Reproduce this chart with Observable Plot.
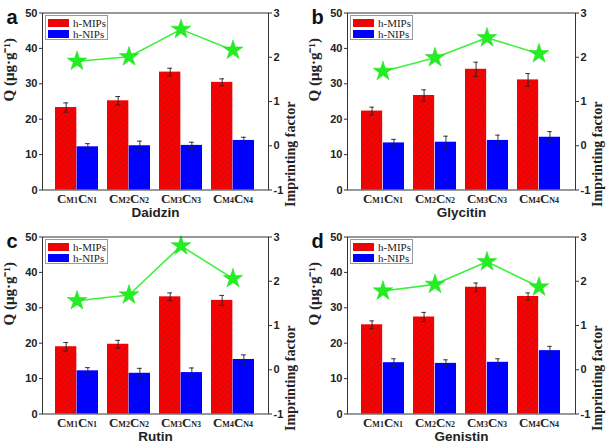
<!DOCTYPE html>
<html>
<head>
<meta charset="utf-8">
<script src="https://cdn.jsdelivr.net/npm/d3@7"></script>
<script src="https://cdn.jsdelivr.net/npm/@observablehq/plot@0.6"></script>
<style>
  body { margin: 0; background: #fff; }
  #grid { width: 609px; height: 448px; display: grid; grid-template-columns: 305px 304px; grid-template-rows: 224px 224px; }
  .panel { position: relative; width: 100%; height: 224px; }
  .panel svg { display: block; }
  .legend { position: absolute; left: 45px; top: 15px; width: 61px; height: 23px; border: 1px solid #999; background: #fff; font-family: "Liberation Serif", serif; font-size: 11px; color: #222; }
  .legend .row { position: absolute; left: 2px; height: 9px; display: flex; align-items: center; }
  .legend .sw { width: 21px; height: 8px; margin-right: 4px; }
  .legend .red { background: repeating-linear-gradient(135deg, #ff0000 0 2.2px, #c81010 2.2px 3.2px); }
  .legend .blue { background: #0000ff; }
</style>
</head>
<body>
<svg width="0" height="0" style="position:absolute">
  <defs>
    <pattern id="hatchRed" width="4" height="4" patternUnits="userSpaceOnUse" patternTransform="rotate(45)">
      <rect width="4" height="4" fill="#ff0000"></rect>
      <line x1="0.5" y1="0" x2="0.5" y2="4" stroke="#c41010" stroke-width="1.1"></line>
    </pattern>
  </defs>
</svg>
<div id="grid"></div>
<script>
const categories = ["CM1CN1", "CM2CN2", "CM3CN3", "CM4CN4"];
const compounds = ["Daidzin", "Glycitin", "Rutin", "Genistin"];
const panelLetters = ["a", "b", "c", "d"];
const seriesNames = ["h-MIPs", "h-NIPs"];
const mipQ = [[23.3, 25.2, 33.3, 30.4], [22.3, 26.7, 34.1, 31.1], [19.0, 19.7, 33.1, 32.1], [25.2, 27.4, 35.8, 33.2]];
const mipErr = [[1.3, 1.2, 1.1, 1.0], [1.1, 1.6, 2.0, 1.8], [1.2, 1.1, 1.1, 1.4], [1.1, 1.3, 1.2, 1.0]];
const nipQ = [[12.2, 12.5, 12.6, 14.0], [13.3, 13.5, 14.0, 14.9], [12.2, 11.5, 11.7, 15.4], [14.5, 14.3, 14.6, 17.9]];
const nipErr = [[0.9, 1.3, 0.9, 0.9], [1.0, 1.7, 1.5, 1.6], [0.9, 1.4, 1.3, 1.3], [1.1, 1.0, 1.0, 1.2]];
const imprintingFactor = [[1.91, 2.01, 2.63, 2.16], [1.68, 1.99, 2.44, 2.08], [1.56, 1.69, 2.80, 2.06], [1.78, 1.93, 2.44, 1.87]];
const qTicks = [0, 10, 20, 30, 40, 50];
const ifTicks = [-1, 0, 1, 2, 3];

const qMax = 50, ifMin = -1, ifMax = 3;
const toQ = v => (v - ifMin) / (ifMax - ifMin) * qMax;
const fromQ = q => q / qMax * (ifMax - ifMin) + ifMin;

function panel(i, width) {
  const rows = categories.map((c, j) => ({
    cat: c, mip: mipQ[i][j], mipE: mipErr[i][j], nip: nipQ[i][j], nipE: nipErr[i][j], ifac: imprintingFactor[i][j]
  }));
  const ml = 42, mr = width === 305 ? 37 : 34, mt = 12.5, mb = 34.5;
  const pIn = 0.17, pOut = 0.25;
  const plotW = width - ml - mr;
  const step = plotW / (categories.length - pIn + 2 * pOut);
  const bw = step * (1 - pIn);
  const half = bw / 2;
  const cap = 2.6;
  const sans = "Liberation Sans, Arial, sans-serif";
  const serif = "Liberation Serif, Times New Roman, serif";
  const errStyle = {stroke: "#222", strokeWidth: 0.9};
  const svg = Plot.plot({
    width, height: 224,
    marginLeft: ml, marginRight: mr, marginTop: mt, marginBottom: mb,
    style: {background: "transparent", overflow: "visible", fontFamily: sans},
    x: {domain: categories, paddingInner: pIn, paddingOuter: pOut, axis: null},
    y: {domain: [0, qMax], axis: null},
    marks: [
      Plot.barY(rows, {x: "cat", y: "mip", fill: "url(#hatchRed)", insetRight: half}),
      Plot.barY(rows, {x: "cat", y: "nip", fill: "#0000ff", insetLeft: half}),
      Plot.ruleX(rows, {x: "cat", y1: d => d.mip - d.mipE, y2: d => d.mip + d.mipE, dx: -bw / 4, ...errStyle}),
      Plot.tickY(rows, {x: "cat", y: d => d.mip + d.mipE, insetLeft: bw / 4 - cap, insetRight: 3 * bw / 4 - cap, ...errStyle}),
      Plot.tickY(rows, {x: "cat", y: d => d.mip - d.mipE, insetLeft: bw / 4 - cap, insetRight: 3 * bw / 4 - cap, ...errStyle}),
      Plot.ruleX(rows, {x: "cat", y1: d => d.nip - d.nipE, y2: d => d.nip + d.nipE, dx: bw / 4, ...errStyle}),
      Plot.tickY(rows, {x: "cat", y: d => d.nip + d.nipE, insetLeft: 3 * bw / 4 - cap, insetRight: bw / 4 - cap, ...errStyle}),
      Plot.tickY(rows, {x: "cat", y: d => d.nip - d.nipE, insetLeft: 3 * bw / 4 - cap, insetRight: bw / 4 - cap, ...errStyle}),
      Plot.line(rows, {x: "cat", y: d => toQ(d.ifac), stroke: "#3cf03c", strokeWidth: 1.6}),
      Plot.dot(rows, {x: "cat", y: d => toQ(d.ifac), symbol: "star", r: 6.2, fill: "#22ee22", stroke: "#22dd22", strokeWidth: 0.5}),
      Plot.frame({stroke: "#333", strokeWidth: 1}),
      Plot.axisY({anchor: "left", ticks: qTicks, tickSize: 3, tickPadding: 2, label: null, fontSize: 11, fontWeight: "bold", fontFamily: sans, fill: "#222", stroke: "#333"}),
      Plot.axisY({anchor: "right", ticks: ifTicks.map(toQ), tickFormat: q => String(Math.round(fromQ(q))), tickSize: 3, tickPadding: 2, label: null, fontSize: 11, fontWeight: "bold", fontFamily: sans, fill: "#222", stroke: "#333"}),
      Plot.axisX({tickSize: 0, tickPadding: 4, label: null, fontSize: 13, fontWeight: "bold", fontFamily: serif, fill: "#222"}),
      Plot.text([compounds[i]], {frameAnchor: "bottom", dy: 27, fontSize: 13.5, fontWeight: "bold", fontFamily: sans, fill: "#222"}),
      Plot.text(["Q (μg·g⁻¹)"], {frameAnchor: "left", dx: -33, rotate: -90, fontSize: 15, fontWeight: "bold", fontFamily: serif, fill: "#222"}),
      Plot.text(["Imprinting factor"], {frameAnchor: "right", dx: 22, rotate: -90, fontSize: 14, fontWeight: "bold", fontFamily: serif, fill: "#222"}),
      Plot.text([panelLetters[i]], {frameAnchor: "top-left", dx: -36, dy: -3, textAnchor: "start", fontSize: 20, fontWeight: "bold", fontFamily: sans, fill: "#111"})
    ]
  });
  // subscript-sized parts of the x tick labels (C + small M1, C + small N1)
  svg.querySelectorAll('[aria-label="x-axis tick label"] text').forEach(t => {
    const s = t.textContent;
    const m = s.match(/^C(M\d)C(N\d)$/);
    if (!m) return;
    t.textContent = "";
    const parts = [["C", null], [m[1], 8], ["C", null], [m[2], 8]];
    for (const [txt, fs] of parts) {
      const ts = document.createElementNS("http://www.w3.org/2000/svg", "tspan");
      ts.textContent = txt;
      if (fs) ts.setAttribute("font-size", fs);
      t.appendChild(ts);
    }
  });
  return svg;
}

const grid = document.getElementById("grid");
for (let i = 0; i < 4; i++) {
  const w = i % 2 === 0 ? 305 : 304;
  const div = document.createElement("div");
  div.className = "panel";
  div.appendChild(panel(i, w));
  const lg = document.createElement("div");
  lg.className = "legend";
  lg.innerHTML = `<div class="row" style="top:2px"><span class="sw red"></span>${seriesNames[0]}</div>` +
                 `<div class="row" style="top:13px"><span class="sw blue"></span>${seriesNames[1]}</div>`;
  div.appendChild(lg);
  grid.appendChild(div);
}
</script>
</body>
</html>
